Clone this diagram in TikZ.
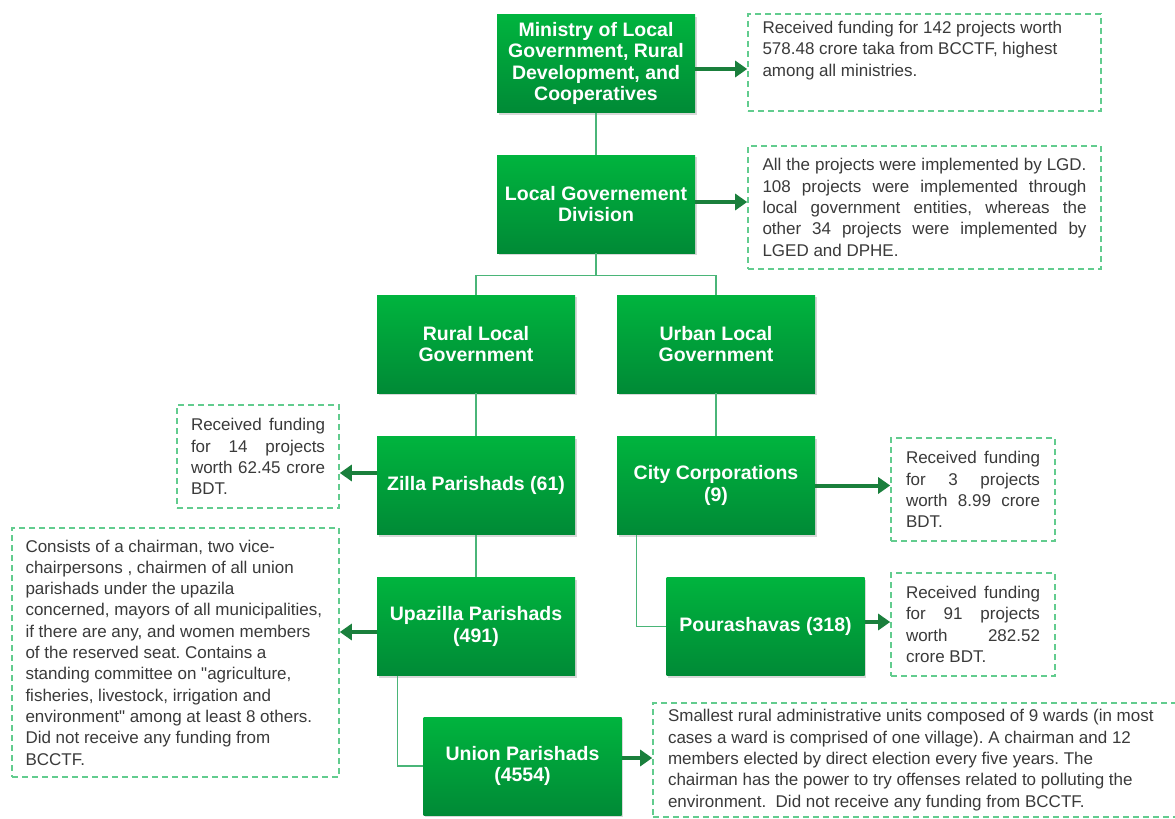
\documentclass[tikz,border=0pt]{standalone}
\usepackage{fontspec}
\setmainfont{Liberation Sans}
\usetikzlibrary{arrows.meta,shadows}
\definecolor{boxtop}{HTML}{00B43E}
\definecolor{boxbot}{HTML}{008A36}
\definecolor{arrowgreen}{HTML}{1A7F3C}
\definecolor{linkgreen}{HTML}{4AB578}
\definecolor{dashgreen}{HTML}{62CC8E}
\definecolor{notetext}{HTML}{3A3A3A}
\newcommand{\jline}[1]{\makebox[\hsize][s]{#1}}

\begin{document}
\frenchspacing
\begin{tikzpicture}[x=1pt, y=-1pt, >={Triangle[length=12pt,width=16pt]},
	govbox/.style={minimum width=198pt, minimum height=98pt, inner sep=2pt, top color=boxtop, bottom color=boxbot, text=white, align=flush center, font=\fontsize{19.5}{21.5}\selectfont\bfseries, drop shadow={opacity=0.3, shadow xshift=1.5pt, shadow yshift=-2pt}},
	note/.style={draw=dashgreen, line width=1.6pt, dash pattern=on 6pt off 4pt, text=notetext, align=flush left, inner sep=0pt, font=\fontsize{17}{21.3}\selectfont},
	link/.style={linkgreen, line width=1.2pt},
	fund/.style={->, arrowgreen, line width=4pt}]
	\fill[white] (0,0) rectangle (1175,819);
	\useasboundingbox (0,0) rectangle (1175,819);

	% hierarchy
	\node[govbox] (min) at (596,63.5) {Ministry of Local\\Government, Rural\\Development, and\\Cooperatives};
	\node[govbox] (lgd) at (596,204) {Local Governement\\Division};
	\node[govbox] (rural) at (476,344) {Rural Local\\Government};
	\node[govbox] (urban) at (716,344) {Urban Local\\Government};
	\node[govbox] (zilla) at (476,485.5) {Zilla Parishads (61)};
	\node[govbox] (city) at (716,485.5) {City Corporations\\(9)};
	\node[govbox] (upa) at (476,626.5) {Upazilla Parishads\\(491)};
	\node[govbox] (poura) at (765.5,626.5) {Pourashavas (318)};
	\node[govbox] (union) at (522.5,766) {Union Parishads\\(4554)};

	% notes
	\node[note, minimum width=353pt, minimum height=97pt, text width=324pt] (minnote) at (924.5,62.5) {Received funding for 142 projects worth\\578.48 crore taka from BCCTF, highest\\among all ministries.\\\strut};
	\node[note, align=justify, minimum width=353pt, minimum height=123pt, text width=324pt] (lgdnote) at (924.5,207.5) {\jline{All the projects were implemented by LGD.}\\\jline{108 projects were implemented through}\\\jline{local government entities, whereas the}\\\jline{other 34 projects were implemented by}\\LGED and DPHE.};
	\node[note, align=justify, minimum width=162pt, minimum height=103pt, text width=134pt] (zillanote) at (258,456.5) {\jline{Received funding}\\\jline{for 14 projects}\\\jline{worth 62.45 crore}\\BDT.};
	\node[note, align=justify, minimum width=164pt, minimum height=103pt, text width=134pt] (citynote) at (973,489.5) {\jline{Received funding}\\\jline{for 3 projects}\\\jline{worth 8.99 crore}\\BDT.};
	\node[note, align=justify, minimum width=164pt, minimum height=103pt, text width=134pt] (pouranote) at (973,624.5) {\jline{Received funding}\\\jline{for 91 projects}\\\jline{worth 282.52}\\crore BDT.};
	\node[note, minimum width=327pt, minimum height=249pt, text width=300pt] (upanote) at (175.5,652.5) {Consists of a chairman, two vice-\\chairpersons , chairmen of all union\\parishads under the upazila\\concerned, mayors of all municipalities,\\if there are any, and women members\\of the reserved seat. Contains a\\standing committee on \textquotedbl agriculture,\\fisheries, livestock, irrigation and\\environment\textquotedbl{} among at least 8 others.\\Did not receive any funding from\\BCCTF.};
	\node[note, minimum width=540pt, minimum height=114pt, text width=510pt] (unionnote) at (923,760) {Smallest rural administrative units composed of 9 wards (in most\\cases a ward is comprised of one village). A chairman and 12\\members elected by direct election every five years. The\\chairman has the power to try offenses related to polluting the\\environment.\ \ Did not receive any funding from BCCTF.};

	% links
	\draw[link] (min) -- (lgd);
	\draw[link] (lgd.south) -- ++(0,22) coordinate (split) -| (rural.north);
	\draw[link] (split) -| (urban.north);
	\draw[link] (rural) -- (zilla);
	\draw[link] (zilla) -- (upa);
	\draw[link] (urban) -- (city);
	\draw[link] ([xshift=20pt]city.south west) |- (poura.west);
	\draw[link] ([xshift=21pt]upa.south west) |- (union.west);

	% funding arrows
	\foreach \src/\dst/\dy in {min/minnote/-5.5, lgd/lgdnote/2, city/citynote/0, poura/pouranote/4.5, union/unionnote/8}
		\draw[fund] ([yshift=\dy pt]\src.east) -- ([yshift=\dy pt]\src.east -| \dst.west);
	\foreach \src/\dst/\dy in {zilla/zillanote/12.5, upa/upanote/-5.5}
		\draw[fund] ([yshift=\dy pt]\src.west) -- ([yshift=\dy pt]\src.west -| \dst.east);
\end{tikzpicture}
\end{document}
